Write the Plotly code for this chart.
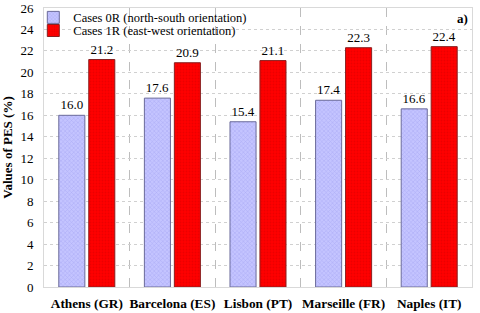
import plotly.graph_objects as go

cities = ["Athens (GR)", "Barcelona (ES)", "Lisbon (PT)", "Marseille (FR)", "Naples (IT)"]
cases_0r = [16.0, 17.6, 15.4, 17.4, 16.6]
cases_1r = [21.2, 20.9, 21.1, 22.3, 22.4]
name_0r = "Cases 0R (north-south orientation)"
name_1r = "Cases 1R (east-west orientation)"
y_ticks = list(range(0, 27, 2))

serif = "'Liberation Serif', 'Times New Roman', Times, serif"

fig = go.Figure()
fig.add_trace(go.Bar(
    x=cities, y=cases_0r, name=name_0r, legend="legend",
    marker=dict(color="#c4c4ff", line=dict(color="#6a6a9a", width=1),
                pattern=dict(shape="x", fgcolor="#8f8fe8", size=3, solidity=0.3)),
    texttemplate="%{y:.1f}", textposition="outside",
    textfont=dict(family=serif, size=13, color="black"), cliponaxis=False,
))
fig.add_trace(go.Bar(
    x=cities, y=cases_1r, name=name_1r, legend="legend2",
    marker=dict(color="#ff0000", line=dict(color="#8a2020", width=1),
                pattern=dict(shape=".", fgcolor="#d80000", size=3, solidity=0.3)),
    texttemplate="%{y:.1f}", textposition="outside",
    textfont=dict(family=serif, size=13, color="black"), cliponaxis=False,
))

leg_common = dict(xanchor="left", yanchor="middle", bgcolor="rgba(0,0,0,0)",
                  font=dict(family=serif, size=12.5, color="black"),
                  itemwidth=30, borderwidth=0)

fig.update_layout(
    width=480, height=313,
    margin=dict(l=44, r=8, t=8, b=26, autoexpand=False),
    paper_bgcolor="white", plot_bgcolor="white",
    barmode="group", bargap=0.3, bargroupgap=0.13,
    font=dict(family=serif, size=13, color="black"),
    legend=dict(x=-0.025, y=0.965, **leg_common),
    legend2=dict(x=-0.025, y=0.918, **leg_common),
    showlegend=True,
    annotations=[dict(text="<b>a)</b>", x=0.995, y=0.962, xref="paper", yref="paper",
                      xanchor="right", yanchor="middle", showarrow=False,
                      font=dict(family=serif, size=13, color="black"))],
)
fig.update_xaxes(
    tickson="boundaries", showgrid=True, gridcolor="#bdbdbd", griddash="dash", gridwidth=1,
    ticks="", tickangle=0, automargin=False, ticklabelstandoff=4,
    tickfont=dict(family=serif, size=13.3, color="black"),
    showline=True, linecolor="#d9d9d9", mirror=True,
    tickprefix="<b>", ticksuffix="</b>",
)
fig.update_yaxes(
    range=[0, 26], tickvals=y_ticks, showgrid=True, gridcolor="#d0d0d0", griddash="dot",
    tickfont=dict(family=serif, size=13, color="black"), automargin=False, ticklabelstandoff=7,
    showline=True, linecolor="#d9d9d9", mirror=True, zeroline=False,
    title=dict(text="<b>Values of PES (%)</b>", font=dict(family=serif, size=13), standoff=6),
)
fig.write_html("out.html", config={"displayModeBar": False},
               post_script="document.body.style.margin='0';document.body.style.padding='0';")
